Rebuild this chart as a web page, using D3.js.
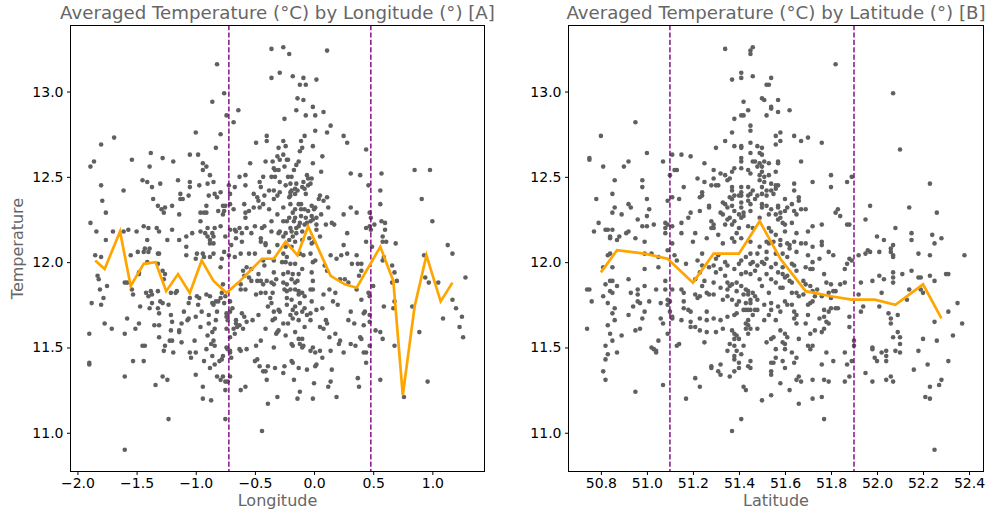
<!DOCTYPE html>
<html><head><meta charset="utf-8">
<script src="https://cdn.jsdelivr.net/npm/d3@7"></script>
<style>body{margin:0;background:#fff} svg{display:block}</style>
</head><body><svg id="c" width="990" height="515"></svg>
<script>
// ---------- data ----------
const tempTicks = [11.0, 11.5, 12.0, 12.5, 13.0];
const lonTicks = [-2.0, -1.5, -1.0, -0.5, 0.0, 0.5, 1.0];
const latTicks = [50.8, 51.0, 51.2, 51.4, 51.6, 51.8, 52.0, 52.2, 52.4];
const lonCuts = [-0.72, 0.48];
const latCuts = [51.1, 51.9];
const titleA = "Averaged Temperature (°C) by Longitude (°) [A]";
const titleB = "Averaged Temperature (°C) by Latitude (°) [B]";

const lonMeans = [[-1.85,12.01],[-1.77,11.96],[-1.64,12.18],[-1.55,11.86],[-1.44,11.99],[-1.34,12.00],[-1.25,11.83],[-1.15,11.93],[-1.05,11.82],[-0.95,12.01],[-0.85,11.89],[-0.74,11.82],[-0.64,11.88],[-0.54,11.95],[-0.44,12.02],[-0.34,12.02],[-0.24,12.12],[-0.14,12.04],[-0.05,12.21],[0.14,11.92],[0.26,11.87],[0.36,11.85],[0.56,12.09],[0.67,11.89],[0.75,11.22],[0.85,11.74],[0.95,12.04],[1.07,11.77],[1.17,11.88]];

const latMeans = [[50.80,11.94],[50.87,12.07],[50.99,12.05],[51.09,12.02],[51.20,11.88],[51.29,12.05],[51.40,12.05],[51.49,12.24],[51.58,12.02],[51.69,11.83],[51.80,11.80],[51.89,11.78],[51.99,11.78],[52.08,11.75],[52.20,11.87],[52.28,11.67]];

const lonPoints = [
[-0.36,13.25],[-0.82,13.16],[-0.36,13.08],[-0.29,13.11],[-0.76,12.99],[-0.86,12.94],[-0.64,12.89],[-0.74,12.86],[-0.68,12.82],[-1.69,12.73],[-1.80,12.69],[-1.00,12.76],[-0.79,12.75],[-0.83,12.67],[-0.40,12.74],[-0.40,12.71],[-0.49,12.70],[-0.30,12.67],[-1.38,12.64],[-1.05,12.63],[-0.98,12.63],[-1.54,12.60],[-1.28,12.61],[-1.19,12.59],[-1.89,12.56],[-1.86,12.59],[-1.39,12.56],[-0.94,12.58],[-0.91,12.56],[-0.94,12.54],[-0.41,12.59],[-0.35,12.59],[-0.31,12.62],[-0.34,12.55],[-0.33,12.54],[-0.30,12.54],[-0.54,12.58],[-0.88,12.51],[-0.58,12.51],[-0.63,12.50],[-0.36,12.50],[-0.33,12.50],[-0.43,12.50],[-0.46,12.47],[-1.45,12.48],[-1.41,12.47],[-1.80,12.45],[-1.30,12.46],[-1.15,12.48],[-1.05,12.47],[-0.85,12.47],[-0.90,12.46],[-0.97,12.45],[-1.05,12.44],[-0.72,12.45],[-1.37,12.44],[-0.58,12.45],[-0.67,12.44],[-0.45,12.44],[-1.61,12.42],[-0.38,12.42],[-0.34,12.42],[-1.13,12.40],[-1.06,12.39],[-0.84,12.40],[-0.79,12.41],[-0.51,12.40],[-0.42,12.39],[-0.31,12.39],[-1.79,12.36],[-1.36,12.37],[-1.13,12.37],[-1.11,12.37],[-0.89,12.39],[-0.82,12.38],[-0.71,12.40],[-0.48,12.38],[-0.47,12.36],[-0.34,12.37],[-1.32,12.33],[-1.26,12.32],[-1.20,12.33],[-0.91,12.33],[-0.77,12.33],[-0.75,12.33],[-0.71,12.34],[-0.59,12.34],[-0.51,12.32],[-0.46,12.32],[-0.43,12.34],[-0.38,12.31],[-1.29,12.31],[-1.27,12.29],[-1.76,12.29],[-1.14,12.28],[-0.93,12.29],[-0.96,12.29],[-0.91,12.29],[-0.81,12.30],[-0.77,12.28],[-0.76,12.30],[-0.68,12.31],[-0.58,12.29],[-0.55,12.30],[-0.58,12.26],[-0.36,12.24],[-0.31,12.28],[-1.89,12.23],[-0.96,12.24],[-1.44,12.21],[-1.40,12.20],[-1.33,12.20],[-1.20,12.19],[-0.90,12.20],[-0.84,12.20],[-0.79,12.21],[-0.67,12.19],[-0.63,12.20],[-0.57,12.20],[-0.50,12.21],[-0.44,12.20],[-0.42,12.21],[-1.84,12.18],[-1.70,12.18],[-1.61,12.18],[-1.57,12.19],[-1.50,12.18],[-1.31,12.18],[-1.03,12.17],[-0.96,12.18],[-0.92,12.17],[-0.90,12.15],[-0.86,12.17],[-0.85,12.15],[-0.75,12.15],[-0.71,12.19],[-0.66,12.18],[-0.61,12.17],[-0.53,12.17],[-0.45,12.14],[-0.36,12.18],[-0.30,12.17],[-1.41,12.13],[-1.24,12.13],[-1.14,12.13],[-1.08,12.15],[-0.88,12.13],[-0.85,12.11],[-0.88,12.11],[-0.66,12.14],[-0.61,12.12],[-0.45,12.12],[-0.41,12.11],[-0.41,12.10],[-0.31,12.10],[-1.76,12.13],[-1.08,12.09],[-0.70,12.10],[-1.39,12.08],[-1.43,12.08],
[-0.26,13.26],[-0.21,13.22],[0.11,13.24],[-0.18,13.09],[-0.09,13.08],[0.02,13.07],[-0.12,13.04],[-0.07,13.04],[-0.14,12.96],[-0.09,12.95],[-0.01,12.91],[-0.15,12.89],[-0.07,12.86],[0.01,12.86],[0.08,12.88],[-0.25,12.84],[0.14,12.80],[0.01,12.77],[0.11,12.76],[-0.08,12.74],[-0.11,12.71],[-0.26,12.71],[0.25,12.74],[0.28,12.70],[-0.24,12.68],[-0.10,12.67],[-0.12,12.65],[-0.01,12.68],[0.44,12.66],[-0.26,12.63],[-0.29,12.60],[-0.23,12.60],[-0.22,12.60],[-0.13,12.59],[-0.01,12.58],[0.07,12.62],[-0.25,12.56],[-0.15,12.57],[-0.17,12.54],[0.06,12.53],[0.31,12.52],[0.39,12.51],[0.57,12.52],[0.85,12.54],[0.98,12.54],[-0.06,12.51],[-0.22,12.50],[-0.19,12.50],[-0.05,12.49],[-0.02,12.49],[-0.29,12.47],[-0.15,12.46],[-0.09,12.47],[-0.24,12.45],[-0.20,12.46],[-0.10,12.44],[-0.05,12.45],[-0.03,12.46],[0.46,12.45],[-0.16,12.43],[-0.08,12.43],[-0.20,12.41],[-0.19,12.42],[-0.14,12.42],[-0.29,12.41],[0.56,12.42],[-0.20,12.39],[-0.16,12.40],[-0.07,12.40],[0.05,12.39],[-0.21,12.38],[0.04,12.37],[0.11,12.38],[0.91,12.37],[0.56,12.34],[-0.20,12.34],[-0.13,12.34],[-0.11,12.34],[-0.02,12.33],[0.01,12.32],[0.08,12.36],[-0.26,12.32],[-0.16,12.31],[-0.11,12.31],[-0.08,12.31],[-0.05,12.30],[0.00,12.31],[0.12,12.32],[0.31,12.32],[-0.18,12.29],[0.06,12.28],[0.25,12.28],[0.36,12.29],[0.47,12.29],[-0.21,12.26],[-0.16,12.26],[-0.11,12.27],[-0.07,12.26],[-0.02,12.27],[-0.01,12.25],[0.02,12.26],[0.48,12.26],[-0.26,12.24],[-0.23,12.24],[-0.17,12.24],[-0.12,12.23],[-0.06,12.23],[-0.03,12.24],[0.02,12.22],[0.10,12.22],[0.15,12.23],[0.17,12.22],[0.57,12.24],[0.60,12.23],[1.00,12.24],[0.47,12.21],[0.51,12.22],[0.44,12.20],[-0.20,12.20],[-0.15,12.20],[-0.13,12.21],[-0.08,12.22],[0.02,12.19],[0.60,12.19],[-0.29,12.18],[-0.24,12.17],[-0.19,12.18],[-0.15,12.17],[-0.10,12.18],[0.28,12.17],[0.48,12.19],[0.58,12.15],[-0.26,12.15],[-0.18,12.15],[-0.10,12.13],[-0.04,12.14],[0.05,12.15],[-0.21,12.13],[-0.16,12.12],[-0.02,12.11],[0.00,12.12],[0.44,12.12],[0.58,12.12],[0.61,12.12],[0.69,12.11],[0.25,12.10],[0.49,12.09],[1.13,12.10],[-0.24,12.09],[-0.19,12.09],
[-1.85,12.04],[-1.80,12.03],[-1.83,11.92],[-1.82,11.90],[-1.75,11.86],[-1.81,11.84],[-1.78,11.79],[-1.88,11.76],[-1.80,11.75],[-1.77,11.64],[-1.71,11.61],[-1.90,11.58],[-1.90,11.41],[-1.90,11.40],[-1.60,11.88],[-1.58,11.88],[-1.55,12.04],[-1.49,12.06],[-1.44,12.06],[-1.40,12.06],[-1.32,12.05],[-1.31,12.05],[-1.28,11.95],[-1.26,11.93],[-1.27,11.90],[-1.48,11.93],[-1.54,11.84],[-1.53,11.81],[-1.42,11.82],[-1.38,11.83],[-1.32,11.83],[-1.40,11.80],[-1.37,11.81],[-1.37,11.76],[-1.39,11.73],[-1.30,11.77],[-1.28,11.76],[-1.23,11.75],[-1.47,11.74],[-1.32,11.73],[-1.31,11.70],[-1.21,11.82],[-1.17,11.82],[-1.16,11.83],[-1.58,11.67],[-1.60,11.58],[-1.48,11.64],[-1.51,11.61],[-1.35,11.63],[-1.31,11.63],[-1.21,11.69],[-1.20,11.65],[-1.21,11.60],[-1.12,11.64],[-1.14,11.60],[-1.14,11.59],[-1.31,11.56],[-1.22,11.54],[-1.20,11.54],[-1.12,11.53],[-1.26,11.51],[-1.27,11.48],[-1.19,11.47],[-1.45,11.51],[-1.43,11.51],[-1.53,11.42],[-1.44,11.42],[-1.05,11.47],[-1.01,11.54],[-1.00,11.47],[-1.04,11.44],[-0.93,11.42],[-1.60,11.33],[-1.28,11.33],[-1.24,11.31],[-1.34,11.28],[-1.00,11.34],[-0.94,11.27],[-0.94,11.20],[-0.87,11.19],[-1.23,11.08],[-1.60,10.90],[-1.10,11.71],[-1.06,11.76],[-1.05,11.79],[-0.99,11.80],[-0.97,11.79],[-0.98,11.75],[-0.95,11.71],[-1.00,11.68],[-0.96,11.62],[-1.06,11.67],[-1.07,11.66],[-0.91,11.81],[-0.88,11.80],[-0.89,11.69],[-0.89,11.64],[-0.90,11.57],[-0.84,11.61],[-0.86,11.59],[-0.85,11.54],[-0.87,11.52],[-0.84,11.51],[-0.91,11.49],[-0.86,11.45],[-0.84,11.40],[-0.88,11.38],[-0.86,11.76],[-0.85,11.75],[-0.82,11.71],[-0.81,11.77],[-0.83,11.66],[-0.77,11.87],[-0.78,11.82],[-0.79,11.79],[-0.75,11.80],[-0.76,11.76],[-0.74,11.70],[-0.74,11.68],[-0.73,11.66],[-0.74,11.61],[-0.77,11.45],[-0.78,11.43],[-0.70,11.44],[-0.74,11.50],[-0.73,11.49],[-0.71,11.47],[-0.80,11.42],[-0.82,11.33],[-0.79,11.31],[-0.77,11.33],[-0.75,11.30],[-0.71,11.33],[-0.73,11.30],[-0.75,11.25],[-0.75,11.08],[-0.78,12.02],[-0.79,11.97],[-0.76,12.06],[-0.72,12.04],[-0.67,12.03],[-0.71,11.77],[-0.69,11.73],[-0.71,11.71],[-0.66,11.66],[-0.66,11.64],[-0.68,11.61],[-0.71,11.56],[-0.67,11.58],[-0.71,11.48],[-0.65,11.62],[-0.63,11.63],[-0.61,11.70],[-0.60,11.61],[-0.59,11.68],[-0.57,11.65],[-0.63,11.49],[-0.62,11.48],[-0.57,11.49],[-0.49,11.51],[-0.48,11.43],[-0.50,11.42],[-0.46,11.39],[-0.43,11.36],[-0.41,11.36],[-0.39,11.39],[-0.40,11.31],[-0.58,11.27],[-0.62,11.25],[-0.44,11.01],[-0.39,11.17],[-0.31,11.21],[-0.33,11.38],[-0.35,11.66],[-0.34,11.71],[-0.33,11.67],[-0.31,11.59],[-0.30,11.60],[-0.34,11.50],[-0.45,11.54],[-0.41,11.61],[-0.32,11.58],[-0.52,11.66],[-0.47,11.69],[-0.58,11.84],[-0.62,11.84],[-0.62,11.87],[-0.59,11.92],[-0.60,11.95],[-0.55,11.91],[-0.53,11.89],[-0.48,11.89],[-0.45,11.89],[-0.43,11.87],[-0.40,11.89],[-0.36,11.88],[-0.34,11.87],[-0.35,11.82],[-0.41,11.82],[-0.45,11.82],[-0.49,11.81],[-0.37,11.79],[-0.36,11.76],[-0.39,11.74],[-0.30,11.72],[-0.50,12.05],[-0.55,12.05],[-0.62,12.05],[-0.57,11.97],[-0.53,11.96],[-0.42,11.98],[-0.38,12.06],[-0.34,12.01],[-0.43,12.01],[-0.47,11.93],[-0.34,11.94],[-0.32,11.90],[-0.83,11.77],[-1.00,12.02],[-1.08,12.04],[-0.93,12.03],[-0.94,12.05],[-0.99,12.05],[-0.88,12.03],[-0.85,12.05],[-1.41,12.00],[-1.32,11.99],[-1.48,11.94],
[-0.26,12.05],[-0.23,12.03],[-0.27,12.00],[-0.24,12.00],[-0.20,11.99],[-0.16,11.99],[-0.12,12.05],[-0.09,12.04],[-0.03,12.05],[-0.01,12.00],[0.01,12.01],[-0.26,11.93],[-0.22,11.94],[-0.18,11.93],[-0.13,11.93],[-0.10,11.96],[-0.19,11.90],[-0.16,11.88],[-0.14,11.89],[-0.26,11.88],[-0.23,11.87],[-0.25,11.84],[-0.23,11.83],[-0.20,11.84],[-0.16,11.84],[-0.13,11.83],[-0.10,11.82],[-0.03,11.84],[-0.01,11.84],[-0.23,11.79],[-0.19,11.78],[-0.13,11.81],[-0.08,11.80],[-0.02,11.77],[-0.23,11.75],[-0.16,11.74],[-0.12,11.76],[-0.08,11.73],[-0.29,11.71],[-0.18,11.72],[-0.20,11.69],[-0.15,11.70],[-0.10,11.71],[-0.03,11.70],[-0.06,11.69],[-0.26,11.64],[-0.18,11.67],[-0.13,11.66],[-0.08,11.62],[-0.03,11.66],[0.02,11.72],[0.07,11.73],[0.10,11.66],[0.11,11.64],[0.08,11.61],[0.05,11.62],[0.16,11.77],[0.20,11.75],[0.08,11.81],[0.13,11.84],[0.18,11.82],[-0.01,11.89],[-0.02,11.94],[0.09,11.98],[0.11,11.95],[0.14,12.04],[0.19,12.02],[0.23,12.04],[0.28,12.05],[0.32,11.99],[0.37,11.99],[0.40,11.99],[0.38,11.92],[0.36,12.04],[0.40,11.95],[0.22,11.90],[0.26,11.90],[0.29,11.88],[0.36,11.84],[0.40,11.78],[0.43,11.71],[0.47,11.69],[0.31,11.71],[0.29,11.66],[0.34,11.64],[0.39,11.56],[0.40,11.55],[0.35,11.51],[0.31,11.52],[0.25,11.47],[0.22,11.54],[0.21,11.52],[0.14,11.48],[0.18,11.58],[0.13,11.56],[0.07,11.44],[0.05,11.48],[0.01,11.47],[-0.01,11.50],[-0.03,11.48],[0.02,11.40],[0.01,11.39],[-0.09,11.51],[-0.12,11.52],[-0.10,11.55],[-0.13,11.55],[-0.16,11.59],[-0.22,11.64],[-0.24,11.57],[-0.18,11.51],[-0.19,11.52],[-0.10,11.50],[-0.19,11.42],[-0.18,11.41],[-0.25,11.39],[-0.26,11.35],[-0.13,11.38],[-0.06,11.37],[-0.17,11.31],[0.00,11.29],[0.12,11.27],[0.14,11.30],[0.15,11.37],[-0.12,11.24],[-0.14,11.20],[-0.01,11.20],[0.19,11.21],[0.37,11.32],[0.38,11.27],[0.44,11.41],[0.44,11.47],[0.42,11.47],[0.42,11.63],[0.47,11.65],[0.47,11.51],[0.42,11.70],[0.46,11.82],[0.47,11.80],[0.50,11.86],[0.52,11.60],[0.56,11.59],[0.58,11.55],[0.56,11.31],[0.59,11.74],[0.66,11.88],[0.70,11.89],[0.68,11.94],[0.66,11.98],[0.68,11.77],[0.67,11.73],[0.68,11.51],[0.59,12.03],[0.58,12.01],[0.83,11.74],[0.89,11.59],[0.93,12.04],[0.94,11.91],[0.97,11.88],[1.05,11.88],[1.09,11.67],[0.96,11.30],[1.17,12.05],[1.28,11.91],[1.17,11.78],[1.20,11.73],[1.25,11.68],[1.23,11.62],[1.26,11.56],[0.76,11.21]
];

const latPoints = [
[51.34,13.25],[51.45,13.24],[51.46,13.26],[51.45,13.22],[51.37,13.07],[51.41,13.08],[51.41,13.11],[51.46,13.09],[51.54,13.08],[51.52,13.04],[51.53,13.04],[51.42,12.94],[51.50,12.96],[51.51,12.95],[51.38,12.84],[51.41,12.86],[51.42,12.86],[51.44,12.89],[51.54,12.90],[51.54,12.91],[51.57,12.95],[51.52,12.86],[51.45,12.80],[51.45,12.77],[51.37,12.76],[51.34,12.71],[51.45,12.70],[51.56,12.74],[50.95,12.82],[50.80,12.74],[51.00,12.64],[50.75,12.61],[50.75,12.60],[50.81,12.56],[50.92,12.59],[50.90,12.56],[51.07,12.59],[51.11,12.63],[51.15,12.63],[51.19,12.62],[51.13,12.54],[51.25,12.58],[51.29,12.54],[51.30,12.67],[51.38,12.68],[51.41,12.68],[51.41,12.67],[51.45,12.64],[51.48,12.68],[51.50,12.67],[51.49,12.64],[51.50,12.63],[51.56,12.69],[51.57,12.58],[51.53,12.58],[51.51,12.59],[51.49,12.58],[51.47,12.59],[51.46,12.59],[51.41,12.61],[51.41,12.59],[51.37,12.53],[51.32,12.52],[51.38,12.55],[51.41,12.55],[51.44,12.54],[51.45,12.52],[51.48,12.56],[51.50,12.56],[51.50,12.53],[51.49,12.51],[51.51,12.50],[51.53,12.51],[51.56,12.53],[51.49,12.48],[51.51,12.47],[51.54,12.46],[51.56,12.45],[51.57,12.45],[51.50,12.44],[51.52,12.42],[51.54,12.42],[51.46,12.42],[51.44,12.44],[51.41,12.44],[51.37,12.44],[51.37,12.42],[51.35,12.48],[51.36,12.49],[51.28,12.45],[51.30,12.45],[51.31,12.45],[51.25,12.47],[51.22,12.49],[51.29,12.49],[51.34,12.51],[51.38,12.39],[51.40,12.39],[51.41,12.39],[51.44,12.39],[51.45,12.40],[51.41,12.41],[51.48,12.39],[51.50,12.40],[51.52,12.39],[51.55,12.40],[51.56,12.43],[51.37,12.37],[51.36,12.38],[51.34,12.34],[51.33,12.35],[51.35,12.32],[51.37,12.33],[51.41,12.35],[51.41,12.32],[51.45,12.34],[51.44,12.36],[51.47,12.37],[51.50,12.34],[51.50,12.32],[51.52,12.33],[51.54,12.31],[51.57,12.32],[51.53,12.28],[51.56,12.28],[51.45,12.30],[51.42,12.29],[51.40,12.28],[51.38,12.30],[51.36,12.26],[51.35,12.25],[51.41,12.26],[51.42,12.27],[51.38,12.24],[51.37,12.22],[51.40,12.20],[51.44,12.21],[51.46,12.20],[51.49,12.26],[51.53,12.20],[51.54,12.18],[51.56,12.16],[51.24,12.41],[51.24,12.39],[51.23,12.38],[51.27,12.33],[51.27,12.32],[51.23,12.30],[51.32,12.29],[51.34,12.22],[51.33,12.28],[51.28,12.24],[51.29,12.22],[51.28,12.20],[51.29,12.20],[51.26,12.14],[51.21,12.17],[51.18,12.26],[51.19,12.29],[51.15,12.23],[51.15,12.17],[51.20,12.12],[51.31,12.16],[51.33,12.11],[51.37,12.14],[51.38,12.12],[51.39,12.17],[51.41,12.14],[51.45,12.12],[51.49,12.09],[51.52,12.12],[51.53,12.11],[51.55,12.12],[51.10,12.51],[51.12,12.54],[51.16,12.44],[51.14,12.37],[51.11,12.38],[51.09,12.36],[51.11,12.21],[51.09,12.22],[51.08,12.23],[51.08,12.20],[51.08,12.17],[51.11,12.11],[51.03,12.22],[51.00,12.21],[50.99,12.12],[50.98,12.21],[50.96,12.25],[51.00,12.27],[51.01,12.31],[51.00,12.37],[50.98,12.48],[50.98,12.44],[50.92,12.34],[50.93,12.32],[50.92,12.18],[50.91,12.17],[50.95,12.14],[50.88,12.15],[50.87,12.13],[50.84,12.14],[50.84,12.15],[50.82,12.19],[50.83,12.19],[50.85,12.19],[50.89,12.28],[50.86,12.32],[50.85,12.29],[50.79,12.23],[50.77,12.18],[50.78,12.37],[50.85,12.40],[50.86,12.48],
[51.82,13.16],[52.07,12.99],[52.10,12.66],[51.57,12.88],[51.62,12.89],[51.58,12.76],[51.58,12.71],[51.64,12.74],[51.67,12.71],[51.70,12.73],[51.76,12.70],[51.57,12.59],[51.67,12.59],[51.64,12.46],[51.64,12.42],[51.66,12.38],[51.66,12.36],[51.72,12.47],[51.80,12.51],[51.80,12.44],[51.87,12.47],[51.89,12.50],[51.60,12.37],[51.57,12.33],[51.63,12.34],[51.61,12.32],[51.60,12.30],[51.58,12.29],[51.64,12.30],[51.65,12.28],[51.67,12.31],[51.69,12.31],[51.58,12.26],[51.57,12.25],[51.59,12.23],[51.60,12.22],[51.63,12.23],[51.72,12.21],[51.76,12.22],[51.82,12.29],[51.83,12.31],[51.84,12.27],[51.87,12.22],[51.88,12.22],[51.70,12.18],[51.65,12.17],[51.60,12.18],[51.58,12.13],[51.58,12.10],[51.61,12.11],[51.62,12.10],[51.64,12.12],[51.67,12.11],[51.69,12.11],[51.72,12.09],[51.76,12.12],[51.76,12.10],[51.62,12.08],[51.97,12.33],[51.95,12.25],[52.00,12.15],[52.03,12.13],[52.08,12.20],[52.07,12.10],[52.06,12.08],[52.14,12.32],[52.15,12.17],[52.15,12.13],[52.23,12.46],[52.26,12.29],[52.24,12.16],[52.28,12.14],[52.25,12.11],[51.96,12.07],
[50.83,12.04],[50.84,12.05],[50.81,11.97],[50.85,11.97],[50.74,11.84],[50.75,11.84],[50.76,11.77],[50.82,11.87],[50.84,11.89],[50.85,11.89],[50.87,11.86],[50.84,11.83],[50.85,11.82],[50.81,11.80],[50.83,11.76],[50.86,11.73],[50.85,11.70],[50.86,11.66],[50.83,11.63],[50.74,11.61],[50.84,11.58],[50.85,11.54],[50.82,11.51],[50.87,11.47],[50.83,11.46],[50.82,11.43],[50.81,11.36],[50.82,11.31],[50.89,11.57],[50.92,11.90],[50.93,11.82],[50.92,11.69],[50.94,11.74],[50.96,11.81],[50.96,11.84],[50.99,11.96],[50.99,11.86],[50.96,11.77],[50.97,11.76],[51.01,11.77],[50.99,11.71],[50.98,11.67],[50.95,11.60],[50.97,11.61],[51.02,11.50],[51.03,11.49],[51.04,11.48],[51.04,11.47],[51.05,11.54],[50.95,11.24],[51.07,11.28],[51.05,11.97],[51.04,11.84],[51.06,11.76],[51.06,11.67],[51.07,11.64],[51.09,11.58],[51.08,11.89],[51.09,11.78],[51.09,11.75],[51.10,11.77],[51.10,11.71],[51.11,11.68],[51.11,11.67],[51.08,11.84],[51.11,11.84],[51.13,11.51],[51.14,11.52],[51.15,11.84],[51.17,11.99],[51.16,11.82],[51.16,11.77],[51.18,11.72],[51.19,11.71],[51.15,11.66],[51.19,11.65],[51.19,11.62],[51.21,11.62],[51.21,11.81],[51.22,11.79],[51.23,11.80],[51.24,11.86],[51.25,11.89],[51.24,11.98],[51.22,12.01],[51.23,11.94],[51.21,11.90],[51.26,11.82],[51.27,11.81],[51.29,11.81],[51.26,11.71],[51.23,11.67],[51.29,11.67],[51.26,11.66],[51.23,11.60],[51.26,11.59],[51.25,11.53],[51.21,11.32],[51.23,11.27],[51.17,11.20],[51.28,11.38],[51.28,11.39],[51.31,11.36],[51.32,11.34],[51.32,11.40],[51.36,11.33],[51.38,11.36],[51.40,11.38],[51.42,11.27],[51.43,11.25],[51.41,11.08],[51.37,11.01],[51.50,11.19],[51.54,11.22],[51.45,11.38],[51.44,11.39],[51.45,11.42],[51.38,11.43],[51.40,11.41],[51.30,11.59],[51.33,11.61],[51.32,11.66],[51.35,11.68],[51.38,11.69],[51.39,11.70],[51.37,11.60],[51.38,11.58],[51.39,11.57],[51.40,11.55],[51.38,11.55],[51.38,11.51],[51.39,11.48],[51.42,11.51],[51.41,11.46],[51.38,11.45],[51.35,11.48],[51.36,11.52],[51.44,11.58],[51.43,11.61],[51.44,11.63],[51.43,11.64],[51.45,11.61],[51.44,11.66],[51.46,11.69],[51.48,11.72],[51.48,11.61],[51.51,11.66],[51.53,11.69],[51.54,11.55],[51.55,11.56],[51.52,11.53],[51.56,11.66],[51.54,11.72],[51.54,11.41],[51.54,11.36],[51.54,11.34],[51.55,11.41],[51.56,11.44],[51.56,11.49],[51.29,11.88],[51.32,11.85],[51.35,11.88],[51.36,11.86],[51.37,11.87],[51.39,11.88],[51.39,11.83],[51.41,11.86],[51.43,11.84],[51.44,11.83],[51.42,11.81],[51.44,11.81],[51.46,11.82],[51.47,11.80],[51.48,11.78],[51.45,11.78],[51.43,11.76],[51.45,11.76],[51.42,11.72],[51.43,11.72],[51.44,11.72],[51.45,11.72],[51.47,11.72],[51.39,11.75],[51.40,11.77],[51.37,11.78],[51.35,11.84],[51.33,11.78],[51.35,11.80],[51.34,11.92],[51.30,11.94],[51.32,11.96],[51.27,11.97],[51.29,11.98],[51.34,12.00],[51.35,11.98],[51.38,11.96],[51.40,11.99],[51.41,12.01],[51.43,12.03],[51.45,11.99],[51.46,12.00],[51.48,11.98],[51.50,12.00],[51.51,11.99],[51.52,12.02],[51.54,11.97],[51.56,11.99],[51.41,11.93],[51.43,11.94],[51.45,11.93],[51.47,11.95],[51.49,11.90],[51.52,11.93],[51.54,11.90],[51.56,11.88],[51.50,11.86],[51.53,11.82],[51.51,11.75],[51.54,11.76],[51.57,11.74],[51.45,12.05],[51.48,12.05],[51.52,12.06],[51.56,12.05],[51.30,12.02],[51.31,12.04],[51.24,12.05],[51.13,12.01],[51.12,12.04],[51.09,12.07],[51.05,12.03],[51.02,12.05],[50.99,12.05],[51.16,11.73],
[51.59,12.05],[51.61,12.03],[51.65,12.06],[51.63,11.99],[51.64,11.98],[51.59,11.97],[51.57,11.94],[51.59,11.93],[51.60,11.91],[51.61,11.92],[51.65,11.95],[51.62,11.89],[51.63,11.88],[51.58,11.85],[51.59,11.85],[51.63,11.82],[51.65,11.82],[51.60,11.77],[51.61,11.75],[51.63,11.75],[51.58,11.71],[51.64,11.71],[51.65,11.69],[51.64,11.67],[51.65,11.64],[51.58,11.60],[51.60,11.58],[51.61,11.56],[51.59,11.53],[51.60,11.52],[51.60,11.49],[51.63,11.47],[51.65,11.44],[51.66,11.55],[51.59,11.42],[51.60,11.38],[51.64,11.41],[51.58,11.29],[51.62,11.25],[51.65,11.31],[51.66,11.33],[51.67,11.30],[51.66,11.17],[51.72,11.31],[51.72,11.20],[51.76,11.21],[51.77,11.31],[51.79,11.30],[51.77,11.08],[51.76,11.40],[51.78,11.47],[51.81,11.42],[51.86,11.30],[51.87,11.40],[51.88,11.33],[51.86,11.47],[51.89,11.42],[51.90,11.51],[51.90,11.54],[51.88,11.62],[51.88,11.68],[51.70,12.04],[51.72,12.00],[51.75,12.02],[51.69,11.97],[51.71,11.96],[51.72,11.96],[51.68,11.89],[51.69,11.87],[51.71,11.86],[51.77,11.93],[51.78,11.88],[51.74,11.84],[51.72,11.83],[51.79,12.06],[51.81,12.04],[51.80,11.87],[51.81,11.83],[51.79,11.82],[51.82,11.83],[51.84,11.87],[51.86,11.96],[51.87,11.99],[51.88,12.02],[51.89,12.01],[51.86,11.88],[51.73,11.80],[51.71,11.76],[51.70,11.75],[51.72,11.77],[51.76,11.80],[51.80,11.79],[51.82,11.73],[51.83,11.73],[51.80,11.73],[51.79,11.71],[51.77,11.72],[51.75,11.67],[51.77,11.68],[51.78,11.65],[51.79,11.64],[51.77,11.61],[51.76,11.59],[51.73,11.60],[51.71,11.58],[51.70,11.51],[51.71,11.49],[51.72,11.51],[51.69,11.64],[51.70,11.69],[51.68,11.81],[51.66,11.80],[51.92,12.04],[51.95,12.05],[51.97,12.06],[52.01,12.06],[52.07,12.04],[52.07,12.03],[52.06,12.06],[51.93,11.88],[51.92,11.81],[51.94,11.74],[51.93,11.71],[51.98,11.89],[52.01,11.92],[52.03,11.90],[52.07,11.91],[52.07,11.88],[52.07,11.94],[52.11,11.93],[52.02,11.82],[52.01,11.74],[52.05,11.70],[52.06,11.67],[52.09,11.69],[52.06,11.64],[52.09,11.59],[52.10,11.56],[52.10,11.52],[52.08,11.48],[52.10,11.47],[52.07,11.56],[51.98,11.50],[51.98,11.49],[51.99,11.44],[52.00,11.42],[52.02,11.47],[52.04,11.48],[52.04,11.45],[52.04,11.42],[51.95,11.35],[51.98,11.30],[52.04,11.31],[52.06,11.33],[52.07,11.30],[52.13,11.78],[52.14,11.84],[52.15,11.95],[52.18,12.05],[52.18,11.91],[52.19,11.91],[52.19,11.84],[52.20,11.82],[52.23,11.92],[52.25,11.89],[52.23,12.04],[52.30,11.93],[52.31,11.93],[52.35,11.76],[52.31,11.71],[52.25,11.65],[52.26,11.54],[52.20,11.55],[52.18,11.48],[52.16,11.37],[52.22,11.40],[52.31,11.42],[52.33,11.57],[52.37,11.64],[52.38,12.04],[52.28,11.31],[52.27,11.28],[52.23,11.27],[52.21,11.21],[52.23,11.20],[52.25,10.90]
];

// ---------- drawing ----------
const svg = d3.select("#c");
const FONT = "DejaVu Sans, sans-serif";
const yDomain = [10.77, 13.39];
const plotTop = 25, plotBottom = 472;

function panel(cfg) {
  const x = d3.scaleLinear().domain(cfg.xDomain).range([cfg.left, cfg.right]);
  const y = d3.scaleLinear().domain(yDomain).range([plotBottom, plotTop]);
  const g = svg.append("g");

  g.append("g").selectAll("circle").data(cfg.points).join("circle")
    .attr("cx", d => x(d[0])).attr("cy", d => y(d[1]))
    .attr("r", 2.3).attr("fill", "#606060");

  g.append("g").selectAll("line").data(cfg.cuts).join("line")
    .attr("x1", d => x(d)).attr("x2", d => x(d))
    .attr("y1", plotTop).attr("y2", plotBottom)
    .attr("stroke", "#800080").attr("stroke-width", 1.4)
    .attr("stroke-dasharray", "5.2,2.2");

  g.append("path").datum(cfg.means)
    .attr("fill", "none").attr("stroke", "#FFA500").attr("stroke-width", 2.7)
    .attr("stroke-linejoin", "miter")
    .attr("d", d3.line().x(d => x(d[0])).y(d => y(d[1])));

  g.append("rect").attr("x", cfg.left + 0.5).attr("y", plotTop + 0.5)
    .attr("width", cfg.right - cfg.left - 1).attr("height", plotBottom - plotTop - 1)
    .attr("fill", "none").attr("stroke", "#000").attr("stroke-width", 1);

  const fmt = d3.format(".1f");
  const xa = g.append("g").attr("transform", `translate(0,${plotBottom - 0.5})`)
    .call(d3.axisBottom(x).tickValues(cfg.xTicks).tickFormat(fmt).tickSize(3.5).tickSizeOuter(0).tickPadding(3.5));
  const ya = g.append("g").attr("transform", `translate(${cfg.left + 0.5},0)`)
    .call(d3.axisLeft(y).tickValues(tempTicks).tickFormat(fmt).tickSize(3.5).tickSizeOuter(0).tickPadding(3.5));
  [xa, ya].forEach(a => {
    a.select(".domain").remove();
    a.selectAll("text").attr("font-family", FONT).attr("font-size", 14).attr("fill", "#000");
    a.selectAll("line").attr("stroke", "#000");
  });

  svg.append("text").attr("x", (cfg.left + cfg.right) / 2).attr("y", 19)
    .attr("text-anchor", "middle").attr("font-family", FONT).attr("font-size", 18.2)
    .attr("fill", "#666").text(cfg.title);
  svg.append("text").attr("x", (cfg.left + cfg.right) / 2).attr("y", 506)
    .attr("text-anchor", "middle").attr("font-family", FONT).attr("font-size", 16)
    .attr("fill", "#666").text(cfg.xLabel);
  if (cfg.yLabel) {
    svg.append("text").attr("transform", `translate(23,${(plotTop + plotBottom) / 2}) rotate(-90)`)
      .attr("text-anchor", "middle").attr("font-family", FONT).attr("font-size", 16)
      .attr("fill", "#666").text(cfg.yLabel);
  }
}

panel({left: 70, right: 485, xDomain: [-2.063, 1.445], points: lonPoints, means: lonMeans,
  cuts: lonCuts, xTicks: lonTicks, title: titleA, xLabel: "Longitude", yLabel: "Temperature"});
panel({left: 568, right: 984, xDomain: [50.657, 52.465], points: latPoints, means: latMeans,
  cuts: latCuts, xTicks: latTicks, title: titleB, xLabel: "Latitude", yLabel: null});
</script>
</body></html>
